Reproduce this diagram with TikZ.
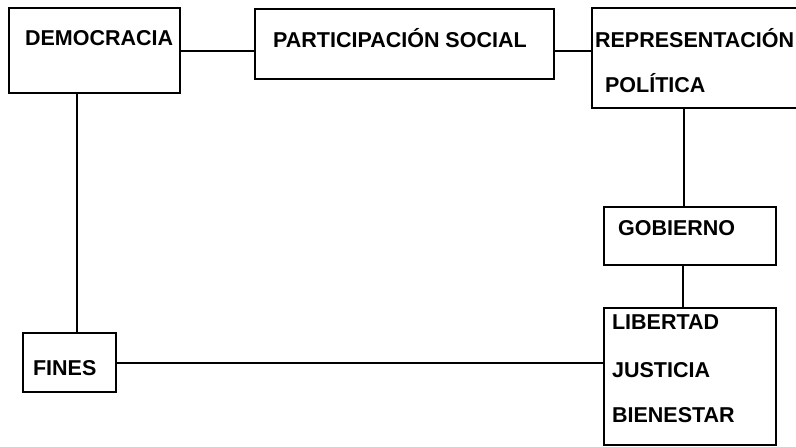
\documentclass[tikz,border=0pt]{standalone}
\usepackage{fontspec}
\setmainfont{Liberation Sans}
\begin{document}
\begin{tikzpicture}[x = 1pt, y = -1pt, line width = 2.2pt,
		caja/.style = {draw, rectangle, inner sep = 0pt, anchor = north west},
		texto/.style = {anchor = west, inner sep = 0pt, font = \fontsize{21.5}{25}\selectfont\bfseries}]
		\useasboundingbox (0,0) rectangle (796,447);
		%
		\node[caja, minimum width = 171, minimum height = 85] (demo) at (8,7) {};
		\node[caja, minimum width = 299, minimum height = 70] (part) at (254,8) {};
		\node[caja, minimum width = 212, minimum height = 100] (repr) at (591,7) {};
		\node[caja, minimum width = 172, minimum height = 58] (gob) at (603,206) {};
		\node[caja, minimum width = 172, minimum height = 137] (valores) at (603,307) {};
		\node[caja, minimum width = 93, minimum height = 59] (fines) at (22,332) {};
		%
		\node[texto] (demotxt) at (24,38) {DEMOCRACIA};
		\node[texto] (parttxt) at (272,38) {PARTICIPACIÓN SOCIAL};
		\node[texto] (reprtxt) at (594,38) {REPRESENTACIÓN};
		\node[texto] (poltxt) at (604,83) {POLÍTICA};
		\node[texto] (gobtxt) at (617,228) {GOBIERNO};
		\node[texto] (libtxt) at (611,322) {LIBERTAD};
		\node[texto] (justxt) at (611,370) {JUSTICIA};
		\node[texto] (bientxt) at (611,415) {BIENESTAR};
		\node[texto] (finestxt) at (32,368) {FINES};
		%
		\draw (demo.east) -- (demo.east -| part.west);
		\draw ([yshift = -7]part.east) -- ([yshift = -7]part.east -| repr.west);
		\draw ([xshift = -6]gob.north) -- ([xshift = -6]gob.north |- repr.south);
		\draw ([xshift = -7]valores.north) -- ([xshift = -7]valores.north |- gob.south);
		\draw ([xshift = 7]fines.north) -- ([xshift = 7]fines.north |- demo.south);
		\draw (fines.east) -- (fines.east -| valores.west);
		%
	\end{tikzpicture}
\end{document}
